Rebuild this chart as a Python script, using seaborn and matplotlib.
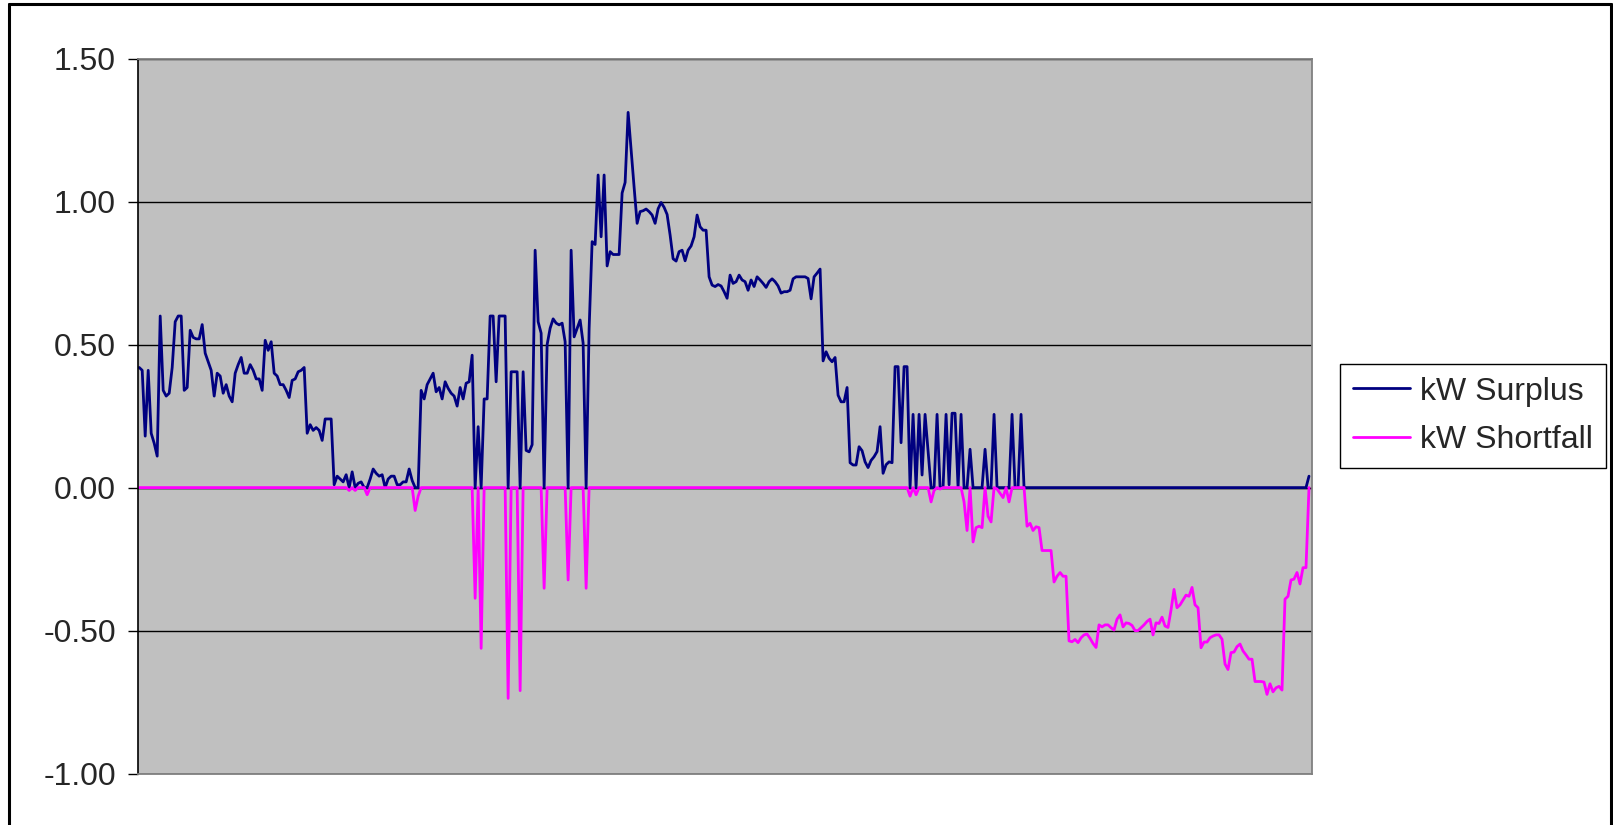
import matplotlib
matplotlib.use("Agg")
import matplotlib.pyplot as plt
from matplotlib.lines import Line2D
import seaborn as sns
import pandas as pd
import numpy as np

# Hourly kW surplus (>= 0) and shortfall (<= 0) profiles
surplus_kw = [
    0.42, 0.41, 0.18, 0.41, 0.19, 0.155, 0.11, 0.60, 0.34, 0.32,
    0.33, 0.42, 0.58, 0.60, 0.60, 0.34, 0.35, 0.55, 0.525, 0.52,
    0.52, 0.57, 0.47, 0.44, 0.41, 0.32, 0.40, 0.39, 0.33, 0.36,
    0.32, 0.30, 0.40, 0.43, 0.455, 0.40, 0.40, 0.43, 0.41, 0.38,
    0.38, 0.34, 0.515, 0.48, 0.51, 0.40, 0.39, 0.36, 0.36, 0.34,
    0.315, 0.375, 0.38, 0.405, 0.41, 0.42, 0.19, 0.22, 0.20, 0.21,
    0.20, 0.165, 0.24, 0.24, 0.24, 0.01, 0.04, 0.03, 0.02, 0.045,
    0.0, 0.055, 0.0, 0.015, 0.02, 0.0, 0.0, 0.03, 0.065, 0.05,
    0.04, 0.045, 0.0, 0.03, 0.04, 0.04, 0.01, 0.01, 0.02, 0.02,
    0.065, 0.025, 0.0, 0.0, 0.34, 0.31, 0.36, 0.38, 0.40, 0.335,
    0.35, 0.31, 0.37, 0.347, 0.33, 0.32, 0.285, 0.35, 0.31, 0.365,
    0.37, 0.463, 0.0, 0.213, 0.0, 0.31, 0.31, 0.60, 0.60, 0.37,
    0.60, 0.60, 0.60, 0.0, 0.405, 0.405, 0.405, 0.0, 0.405, 0.13,
    0.125, 0.15, 0.83, 0.58, 0.54, 0.0, 0.50, 0.557, 0.59, 0.575,
    0.569, 0.575, 0.51, 0.0, 0.83, 0.527, 0.557, 0.586, 0.505, 0.0,
    0.556, 0.86, 0.85, 1.093, 0.877, 1.093, 0.775, 0.825, 0.815, 0.815,
    0.815, 1.03, 1.067, 1.312, 1.18, 1.05, 0.924, 0.965, 0.968, 0.974,
    0.965, 0.953, 0.924, 0.975, 0.997, 0.98, 0.955, 0.883, 0.80, 0.792,
    0.825, 0.83, 0.793, 0.83, 0.845, 0.877, 0.953, 0.912, 0.90, 0.90,
    0.737, 0.708, 0.703, 0.71, 0.705, 0.685, 0.662, 0.743, 0.714, 0.72,
    0.743, 0.726, 0.72, 0.69, 0.726, 0.703, 0.737, 0.726, 0.714, 0.70,
    0.72, 0.73, 0.72, 0.705, 0.68, 0.685, 0.685, 0.69, 0.73, 0.737,
    0.737, 0.737, 0.737, 0.731, 0.66, 0.737, 0.75, 0.764, 0.443, 0.475,
    0.452, 0.44, 0.455, 0.323, 0.30, 0.30, 0.35, 0.087, 0.079, 0.079,
    0.143, 0.129, 0.09, 0.07, 0.095, 0.108, 0.126, 0.213, 0.05, 0.08,
    0.09, 0.087, 0.423, 0.423, 0.157, 0.423, 0.423, 0.0, 0.256, 0.0,
    0.256, 0.044, 0.256, 0.13, 0.0, 0.0, 0.256, 0.0, 0.0, 0.256,
    0.01, 0.26, 0.26, 0.0, 0.256, 0.0, 0.0, 0.134, 0.0, 0.0,
    0.0, 0.0, 0.134, 0.0, 0.0, 0.256, 0.0, 0.0, 0.0, 0.0,
    0.0, 0.256, 0.0, 0.0, 0.256, 0.0, 0.0, 0.0, 0.0, 0.0,
    0.0, 0.0, 0.0, 0.0, 0.0, 0.0, 0.0, 0.0, 0.0, 0.0,
    0.0, 0.0, 0.0, 0.0, 0.0, 0.0, 0.0, 0.0, 0.0, 0.0,
    0.0, 0.0, 0.0, 0.0, 0.0, 0.0, 0.0, 0.0, 0.0, 0.0,
    0.0, 0.0, 0.0, 0.0, 0.0, 0.0, 0.0, 0.0, 0.0, 0.0,
    0.0, 0.0, 0.0, 0.0, 0.0, 0.0, 0.0, 0.0, 0.0, 0.0,
    0.0, 0.0, 0.0, 0.0, 0.0, 0.0, 0.0, 0.0, 0.0, 0.0,
    0.0, 0.0, 0.0, 0.0, 0.0, 0.0, 0.0, 0.0, 0.0, 0.0,
    0.0, 0.0, 0.0, 0.0, 0.0, 0.0, 0.0, 0.0, 0.0, 0.0,
    0.0, 0.0, 0.0, 0.0, 0.0, 0.0, 0.0, 0.0, 0.0, 0.0,
    0.04,
]

shortfall_kw = [
    0.0, 0.0, 0.0, 0.0, 0.0, 0.0, 0.0, 0.0, 0.0, 0.0,
    0.0, 0.0, 0.0, 0.0, 0.0, 0.0, 0.0, 0.0, 0.0, 0.0,
    0.0, 0.0, 0.0, 0.0, 0.0, 0.0, 0.0, 0.0, 0.0, 0.0,
    0.0, 0.0, 0.0, 0.0, 0.0, 0.0, 0.0, 0.0, 0.0, 0.0,
    0.0, 0.0, 0.0, 0.0, 0.0, 0.0, 0.0, 0.0, 0.0, 0.0,
    0.0, 0.0, 0.0, 0.0, 0.0, 0.0, 0.0, 0.0, 0.0, 0.0,
    0.0, 0.0, 0.0, 0.0, 0.0, 0.0, 0.0, 0.0, 0.0, 0.0,
    -0.01, 0.0, -0.01, 0.0, 0.0, 0.0, -0.025, 0.0, 0.0, 0.0,
    0.0, 0.0, 0.0, 0.0, 0.0, 0.0, 0.0, 0.0, 0.0, 0.0,
    0.0, 0.0, -0.08, -0.03, 0.0, 0.0, 0.0, 0.0, 0.0, 0.0,
    0.0, 0.0, 0.0, 0.0, 0.0, 0.0, 0.0, 0.0, 0.0, 0.0,
    0.0, 0.0, -0.387, 0.0, -0.562, 0.0, 0.0, 0.0, 0.0, 0.0,
    0.0, 0.0, 0.0, -0.737, 0.0, 0.0, 0.0, -0.71, 0.0, 0.0,
    0.0, 0.0, 0.0, 0.0, 0.0, -0.352, 0.0, 0.0, 0.0, 0.0,
    0.0, 0.0, 0.0, -0.323, 0.0, 0.0, 0.0, 0.0, 0.0, -0.352,
    0.0, 0.0, 0.0, 0.0, 0.0, 0.0, 0.0, 0.0, 0.0, 0.0,
    0.0, 0.0, 0.0, 0.0, 0.0, 0.0, 0.0, 0.0, 0.0, 0.0,
    0.0, 0.0, 0.0, 0.0, 0.0, 0.0, 0.0, 0.0, 0.0, 0.0,
    0.0, 0.0, 0.0, 0.0, 0.0, 0.0, 0.0, 0.0, 0.0, 0.0,
    0.0, 0.0, 0.0, 0.0, 0.0, 0.0, 0.0, 0.0, 0.0, 0.0,
    0.0, 0.0, 0.0, 0.0, 0.0, 0.0, 0.0, 0.0, 0.0, 0.0,
    0.0, 0.0, 0.0, 0.0, 0.0, 0.0, 0.0, 0.0, 0.0, 0.0,
    0.0, 0.0, 0.0, 0.0, 0.0, 0.0, 0.0, 0.0, 0.0, 0.0,
    0.0, 0.0, 0.0, 0.0, 0.0, 0.0, 0.0, 0.0, 0.0, 0.0,
    0.0, 0.0, 0.0, 0.0, 0.0, 0.0, 0.0, 0.0, 0.0, 0.0,
    0.0, 0.0, 0.0, 0.0, 0.0, 0.0, 0.0, -0.03, 0.0, -0.025,
    0.0, 0.0, 0.0, 0.0, -0.05, -0.01, 0.0, -0.005, 0.0, 0.0,
    0.0, 0.0, 0.0, 0.0, 0.0, -0.05, -0.15, 0.0, -0.19, -0.14,
    -0.135, -0.14, 0.0, -0.10, -0.12, 0.0, -0.005, -0.02, -0.035, 0.0,
    -0.05, 0.0, 0.0, 0.0, 0.0, 0.0, -0.135, -0.125, -0.15, -0.137,
    -0.14, -0.22, -0.22, -0.22, -0.22, -0.33, -0.31, -0.297, -0.31, -0.31,
    -0.536, -0.539, -0.531, -0.542, -0.525, -0.515, -0.512, -0.527, -0.545, -0.559,
    -0.48, -0.487, -0.48, -0.48, -0.49, -0.498, -0.46, -0.445, -0.487, -0.473,
    -0.475, -0.482, -0.5, -0.5, -0.49, -0.48, -0.468, -0.46, -0.515, -0.473,
    -0.475, -0.453, -0.484, -0.489, -0.428, -0.356, -0.42, -0.41, -0.393, -0.376,
    -0.38, -0.349, -0.41, -0.42, -0.56, -0.54, -0.54, -0.525, -0.519, -0.515,
    -0.515, -0.53, -0.617, -0.636, -0.577, -0.575, -0.556, -0.547, -0.571, -0.585,
    -0.60, -0.60, -0.678, -0.678, -0.678, -0.68, -0.723, -0.686, -0.714, -0.70,
    -0.695, -0.708, -0.39, -0.38, -0.323, -0.32, -0.297, -0.337, -0.28, -0.28,
    0.0,
]

series_names = ["kW Surplus", "kW Shortfall"]
series_colors = ["#000080", "#FF00FF"]
y_ticks = [-1.0, -0.5, 0.0, 0.5, 1.0, 1.5]

sns.set_theme(style="white")
plt.rcParams["font.family"] = ["Liberation Sans", "DejaVu Sans"]

W, H = 1613, 825
fig = plt.figure(figsize=(W / 100, H / 100), dpi=100)
fig.patch.set_facecolor("white")

# plot area in pixel terms: x 138..1312, y 58.6..773.6 (from top)
ax = fig.add_axes([138 / W, (H - 773.6) / H, 1174 / W, 715 / H])
ax.set_facecolor("#C0C0C0")

steps = np.arange(len(surplus_kw))
frame = pd.DataFrame({"step": steps,
                      series_names[0]: surplus_kw,
                      series_names[1]: shortfall_kw})
long = frame.melt(id_vars="step", var_name="series", value_name="kW")

ax.axhline(0, color="black", lw=1.0, zorder=1.5)
sns.lineplot(data=long, x="step", y="kW", hue="series",
             hue_order=series_names, palette=series_colors,
             linewidth=2.0, ax=ax, zorder=2)

ax.set_xlim(-0.4, 391)
ax.set_ylim(-1.0, 1.5)
ax.set_yticks(y_ticks)
ax.set_yticklabels([f"{v:.2f}" for v in y_ticks])
ax.set_xticks([])
ax.set_xlabel("")
ax.set_ylabel("")
ax.yaxis.grid(True, color="black", linewidth=1.0)
ax.set_axisbelow(True)
ax.tick_params(axis="y", direction="out", length=7, width=1.0,
               color="black", labelsize=23, pad=9, left=True)
for side in ["top", "right", "bottom"]:
    ax.spines[side].set_color("#808080")
    ax.spines[side].set_linewidth(1.3)
ax.spines["left"].set_color("black")
ax.spines["left"].set_linewidth(1.2)

ax.get_legend().remove()
legend_handles = [Line2D([0], [0], color=c, lw=2.0) for c in series_colors]
fig.legend(legend_handles, series_names, loc="center left",
           bbox_to_anchor=(1340 / W, 1 - 415.8 / H), fontsize=23,
           frameon=True, fancybox=False, edgecolor="black", framealpha=1,
           handlelength=1.8, handletextpad=0.3, borderpad=0.4,
           labelspacing=0.58, borderaxespad=0)

# outer chart frame
frame_kw = dict(color="black", linewidth=2.2, transform=fig.transFigure)
fig.add_artist(Line2D([9 / W, 1611 / W], [1 - 4 / H, 1 - 4 / H], **frame_kw))
fig.add_artist(Line2D([9 / W, 9 / W], [0, 1 - 4 / H], **frame_kw))
fig.add_artist(Line2D([1611 / W, 1611 / W], [0, 1 - 4 / H], **frame_kw))

fig.savefig("out.png", dpi=100)
